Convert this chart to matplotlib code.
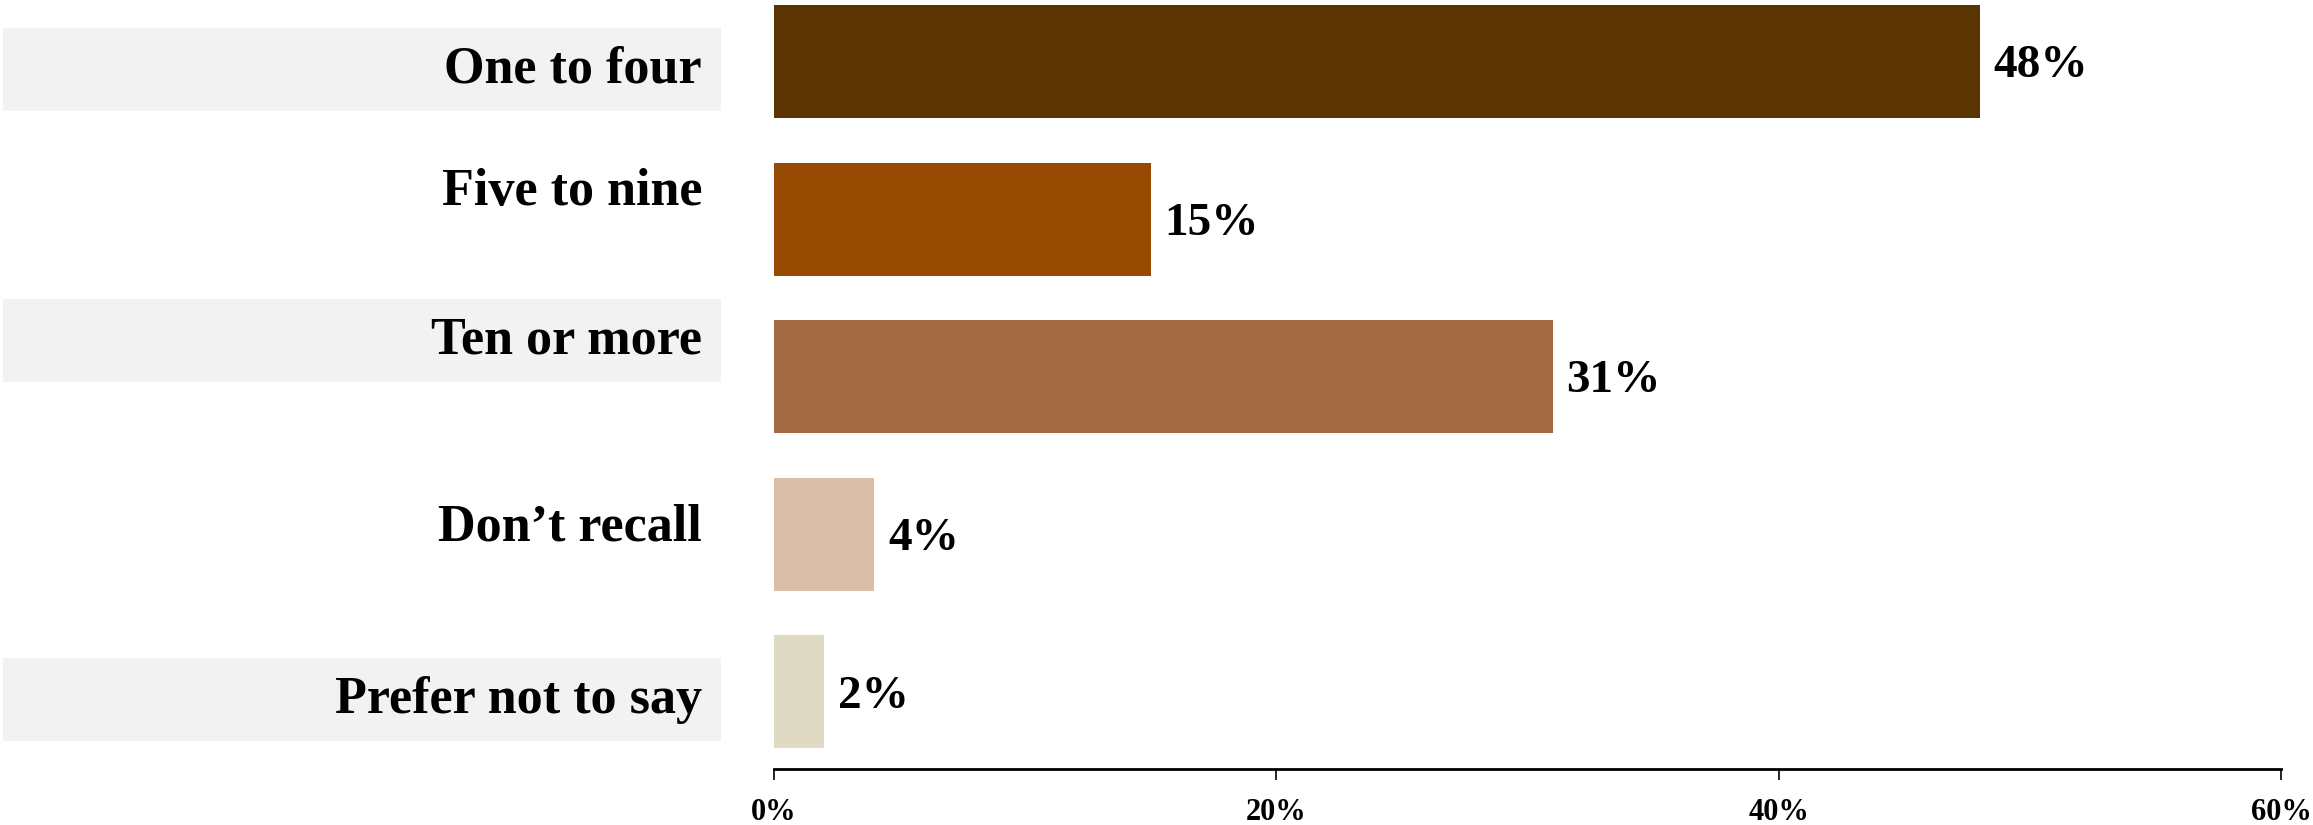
import matplotlib
matplotlib.use("Agg")
import matplotlib.pyplot as plt
from matplotlib.ticker import FuncFormatter

# Data
categories = ["One to four", "Five to nine", "Ten or more", "Don\u2019t recall", "Prefer not to say"]
values = [48, 15, 31, 4, 2]
colors = ["#5a3403", "#964a02", "#a36b44", "#d9bfa7", "#dfdac4"]
ticks = [0, 20, 40, 60]

plt.rcParams["font.family"] = ["Liberation Serif", "DejaVu Serif"]
plt.rcParams["font.weight"] = "bold"

fig = plt.figure(figsize=(23.13, 8.25), dpi=100)

# bar area
ax = fig.add_axes([774 / 2313, 56 / 825, (2281 - 774) / 2313, 769 / 825])
ylim = (4.49, -0.39)
pos = list(range(len(categories)))
ax.barh(pos, values, height=0.717, color=colors)
for y, v in zip(pos, values):
    ax.text(v + 0.55, y + 0.03, f"{v}%", va="center", ha="left", fontsize=34, fontweight="bold")

ax.set_xlim(0, 60)
ax.set_ylim(*ylim)
ax.set_xticks(ticks)
ax.xaxis.set_major_formatter(FuncFormatter(lambda x, _: f"{x:.0f}%"))
ax.tick_params(axis="x", length=8, width=1.2, labelsize=22, pad=13)
ax.tick_params(axis="y", left=False, labelleft=False)
for s in ["top", "right", "left"]:
    ax.spines[s].set_visible(False)
ax.spines["bottom"].set_linewidth(2)
for lab in ax.get_xticklabels():
    lab.set_fontweight("bold")

# label area with grey bands on alternate rows
lab_ax = fig.add_axes([0, 56 / 825, 1, 769 / 825], zorder=-1)
lab_ax.set_xlim(0, 2313)
lab_ax.set_ylim(*ylim)
lab_ax.axis("off")
label_y = [0.05, 0.83, 1.77, 2.96, 4.05]
for i, (name, y) in enumerate(zip(categories, label_y)):
    if i % 2 == 0:
        lab_ax.barh(y, 718, left=3, height=0.527, color="#f2f2f2")
    lab_ax.text(702, y, name, ha="right", va="center", fontsize=37.5, fontweight="bold")

fig.savefig("out.png", dpi=100)
